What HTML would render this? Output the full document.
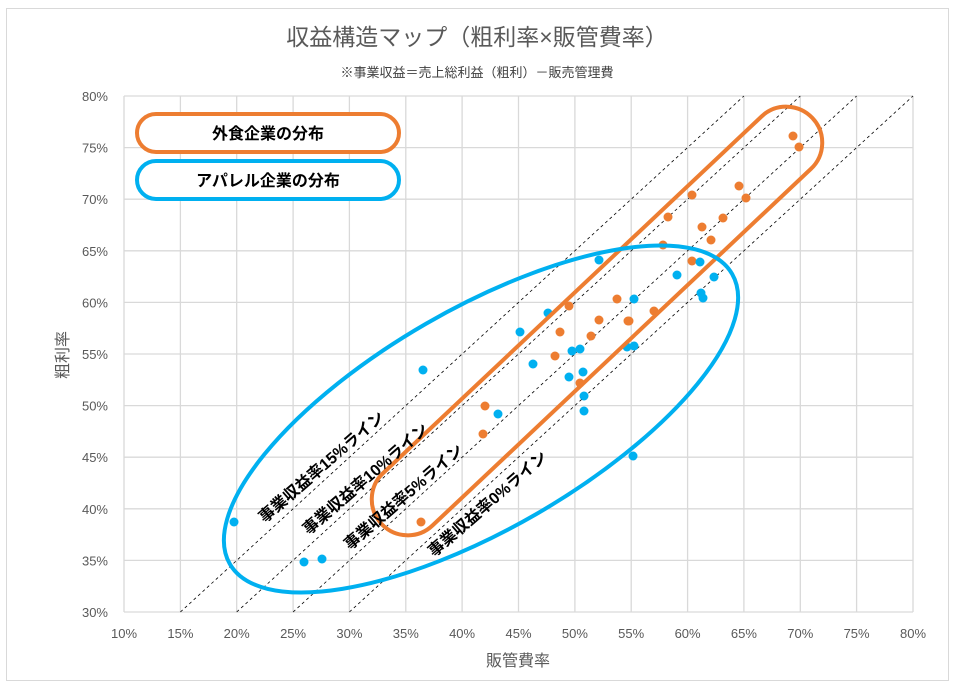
<!DOCTYPE html>
<html><head><meta charset="utf-8"><style>
body{margin:0;background:#fff;}
svg{display:block;font-family:"Liberation Sans","Noto Sans CJK JP",sans-serif;}
</style></head><body>
<svg width="955" height="686" viewBox="0 0 955 686" xmlns="http://www.w3.org/2000/svg">
<rect x="0" y="0" width="955" height="686" fill="#fff"/>
<rect x="6.5" y="8.5" width="942" height="672" fill="none" stroke="#d9d9d9" stroke-width="1"/>
<text x="477" y="45" text-anchor="middle" font-size="23" fill="#595959">収益構造マップ（粗利率×販管費率）</text>
<text x="477" y="77" text-anchor="middle" font-size="13" fill="#404040">※事業収益＝売上総利益（粗利）－販売管理費</text>
<g stroke="#d9d9d9" stroke-width="1.3">
<line x1="124" y1="96" x2="124" y2="612"/><line x1="180.4" y1="96" x2="180.4" y2="612"/><line x1="236.7" y1="96" x2="236.7" y2="612"/><line x1="293.1" y1="96" x2="293.1" y2="612"/><line x1="349.4" y1="96" x2="349.4" y2="612"/><line x1="405.8" y1="96" x2="405.8" y2="612"/><line x1="462.1" y1="96" x2="462.1" y2="612"/><line x1="518.5" y1="96" x2="518.5" y2="612"/><line x1="574.9" y1="96" x2="574.9" y2="612"/><line x1="631.2" y1="96" x2="631.2" y2="612"/><line x1="687.6" y1="96" x2="687.6" y2="612"/><line x1="743.9" y1="96" x2="743.9" y2="612"/><line x1="800.3" y1="96" x2="800.3" y2="612"/><line x1="856.6" y1="96" x2="856.6" y2="612"/><line x1="913" y1="96" x2="913" y2="612"/>
<line x1="124" y1="96" x2="913" y2="96"/><line x1="124" y1="147.6" x2="913" y2="147.6"/><line x1="124" y1="199.2" x2="913" y2="199.2"/><line x1="124" y1="250.8" x2="913" y2="250.8"/><line x1="124" y1="302.4" x2="913" y2="302.4"/><line x1="124" y1="354" x2="913" y2="354"/><line x1="124" y1="405.6" x2="913" y2="405.6"/><line x1="124" y1="457.2" x2="913" y2="457.2"/><line x1="124" y1="508.8" x2="913" y2="508.8"/><line x1="124" y1="560.4" x2="913" y2="560.4"/><line x1="124" y1="612" x2="913" y2="612"/>
</g>
<g font-size="13" fill="#595959" text-anchor="end">
<text x="108" y="101">80%</text><text x="108" y="152.6">75%</text><text x="108" y="204.2">70%</text><text x="108" y="255.8">65%</text><text x="108" y="307.4">60%</text><text x="108" y="359">55%</text><text x="108" y="410.6">50%</text><text x="108" y="462.2">45%</text><text x="108" y="513.8">40%</text><text x="108" y="565.4">35%</text><text x="108" y="617">30%</text>
</g>
<g font-size="13" fill="#595959" text-anchor="middle">
<text x="124" y="638">10%</text><text x="180.4" y="638">15%</text><text x="236.7" y="638">20%</text><text x="293.1" y="638">25%</text><text x="349.4" y="638">30%</text><text x="405.8" y="638">35%</text><text x="462.1" y="638">40%</text><text x="518.5" y="638">45%</text><text x="574.9" y="638">50%</text><text x="631.2" y="638">55%</text><text x="687.6" y="638">60%</text><text x="743.9" y="638">65%</text><text x="800.3" y="638">70%</text><text x="856.6" y="638">75%</text><text x="913" y="638">80%</text>
</g>
<text x="518" y="666" text-anchor="middle" font-size="16" fill="#595959">販管費率</text>
<text transform="translate(68,355) rotate(-90)" text-anchor="middle" font-size="16" fill="#595959">粗利率</text>
<g stroke="#000" stroke-width="0.8" stroke-dasharray="3,3">
<line x1="349.4" y1="612" x2="913" y2="96"/>
<line x1="293.1" y1="612" x2="856.6" y2="96"/>
<line x1="236.7" y1="612" x2="800.3" y2="96"/>
<line x1="180.4" y1="612" x2="743.9" y2="96"/>
</g>
<g fill="#ed7d31">
<circle cx="793" cy="136" r="4.5"/><circle cx="799" cy="147" r="4.5"/><circle cx="739" cy="186" r="4.5"/><circle cx="746" cy="198" r="4.5"/><circle cx="692" cy="195" r="4.5"/><circle cx="668" cy="217" r="4.5"/><circle cx="723" cy="218" r="4.5"/><circle cx="702" cy="227" r="4.5"/><circle cx="711" cy="240" r="4.5"/><circle cx="663" cy="245" r="4.5"/><circle cx="692" cy="261" r="4.5"/><circle cx="617" cy="299" r="4.5"/><circle cx="629" cy="321" r="4.5"/><circle cx="599" cy="320" r="4.5"/><circle cx="654" cy="311" r="4.5"/><circle cx="560" cy="332" r="4.5"/><circle cx="591" cy="336" r="4.5"/><circle cx="569" cy="306" r="4.5"/><circle cx="555" cy="356" r="4.5"/><circle cx="580" cy="383" r="4.5"/><circle cx="485" cy="406" r="4.5"/><circle cx="483" cy="434" r="4.5"/><circle cx="421" cy="522" r="4.5"/><circle cx="628" cy="321" r="4.5"/>
</g>
<g fill="#00b0f0">
<circle cx="234" cy="522" r="4.5"/><circle cx="304" cy="562" r="4.5"/><circle cx="322" cy="559" r="4.5"/><circle cx="423" cy="370" r="4.5"/><circle cx="520" cy="332" r="4.5"/><circle cx="548" cy="313" r="4.5"/><circle cx="533" cy="364" r="4.5"/><circle cx="599" cy="260" r="4.5"/><circle cx="634" cy="299" r="4.5"/><circle cx="677" cy="275" r="4.5"/><circle cx="700" cy="262" r="4.5"/><circle cx="714" cy="277" r="4.5"/><circle cx="701" cy="293" r="4.5"/><circle cx="703" cy="298" r="4.5"/><circle cx="572" cy="351" r="4.5"/><circle cx="580" cy="349" r="4.5"/><circle cx="569" cy="377" r="4.5"/><circle cx="583" cy="372" r="4.5"/><circle cx="584" cy="396" r="4.5"/><circle cx="584" cy="411" r="4.5"/><circle cx="498" cy="414" r="4.5"/><circle cx="627" cy="347" r="4.5"/><circle cx="634" cy="346" r="4.5"/><circle cx="633" cy="456" r="4.5"/>
</g>
<rect x="-296" y="-36" width="592" height="72" rx="36" ry="36" transform="translate(597,321) rotate(-43.3)" fill="none" stroke="#ed7d31" stroke-width="4"/>
<ellipse cx="481" cy="419" rx="290" ry="110" transform="rotate(-30 481 419)" fill="none" stroke="#00b0f0" stroke-width="4"/>
<g font-size="16" font-weight="bold" fill="#000" text-anchor="middle">
<text transform="translate(325,471) rotate(-41)">事業収益率15%ライン</text>
<text transform="translate(369,483) rotate(-41)">事業収益率10%ライン</text>
<text transform="translate(407,501) rotate(-41)">事業収益率5%ライン</text>
<text transform="translate(491,508) rotate(-41)">事業収益率0%ライン</text>
</g>
<rect x="137" y="114" width="262" height="38" rx="19" fill="#fff" stroke="#ed7d31" stroke-width="4"/>
<text x="268" y="139" text-anchor="middle" font-size="16" font-weight="bold">外食企業の分布</text>
<rect x="137" y="161" width="262" height="38" rx="19" fill="#fff" stroke="#00b0f0" stroke-width="4"/>
<text x="268" y="186" text-anchor="middle" font-size="16" font-weight="bold">アパレル企業の分布</text>
</svg>
</body></html>
